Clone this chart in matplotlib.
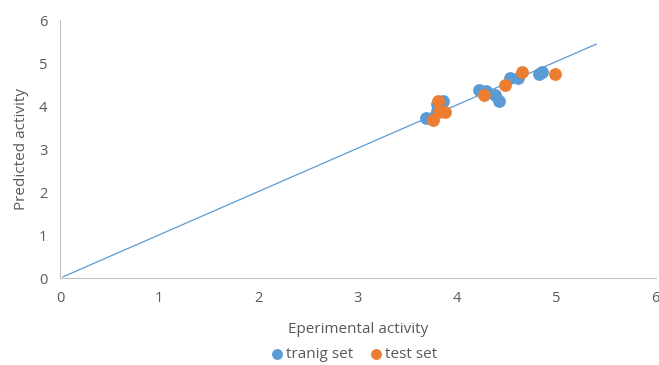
import matplotlib
matplotlib.use("Agg")
import matplotlib.pyplot as plt

train_x = [3.69, 3.75, 3.80, 3.80, 3.86, 4.22, 4.29, 4.38, 4.42, 4.53, 4.61, 4.82, 4.85]
train_y = [3.72, 3.72, 3.88, 4.05, 4.12, 4.37, 4.35, 4.26, 4.12, 4.65, 4.65, 4.74, 4.79]
test_x = [3.76, 3.82, 3.81, 3.88, 4.27, 4.48, 4.65, 4.99]
test_y = [3.67, 3.86, 4.12, 3.86, 4.26, 4.49, 4.79, 4.74]
line_x = [0.03, 5.4]
line_y = [0.03, 5.44]

plt.rcParams['font.family'] = ['Open Sans', 'DejaVu Sans']
fig = plt.figure(figsize=(6.59, 3.65), dpi=100)
ax = fig.add_axes([0.091, 0.238, 0.904, 0.707])

ax.plot(line_x, line_y, color='#5b9bd5', lw=0.9, zorder=1)
ax.scatter(train_x, train_y, s=85, color='#5b9bd5', label='tranig set', zorder=2, linewidths=0)
ax.scatter(test_x, test_y, s=85, color='#ed7d31', label='test set', zorder=3, linewidths=0)

ax.set_xlim(0, 6)
ax.set_ylim(0, 6)
ax.set_xticks(range(7))
ax.set_yticks(range(7))
for s in ['top', 'right']:
    ax.spines[s].set_visible(False)
for s in ['left', 'bottom']:
    ax.spines[s].set_color('#bfbfbf')
ax.tick_params(length=0, colors='#595959', labelsize=10.5, pad=9)
ax.set_xlabel('Eperimental activity', color='#595959', fontsize=11, labelpad=12)
ax.set_ylabel('Predicted activity', color='#595959', fontsize=11, labelpad=7)

leg = fig.legend(loc='lower center', bbox_to_anchor=(0.53, -0.03), ncol=2, frameon=False,
                 fontsize=11, handletextpad=-0.4, columnspacing=0.5, scatterpoints=1,
                 labelcolor='#595959', markerscale=0.85)
fig.savefig('out.png', dpi=100)
